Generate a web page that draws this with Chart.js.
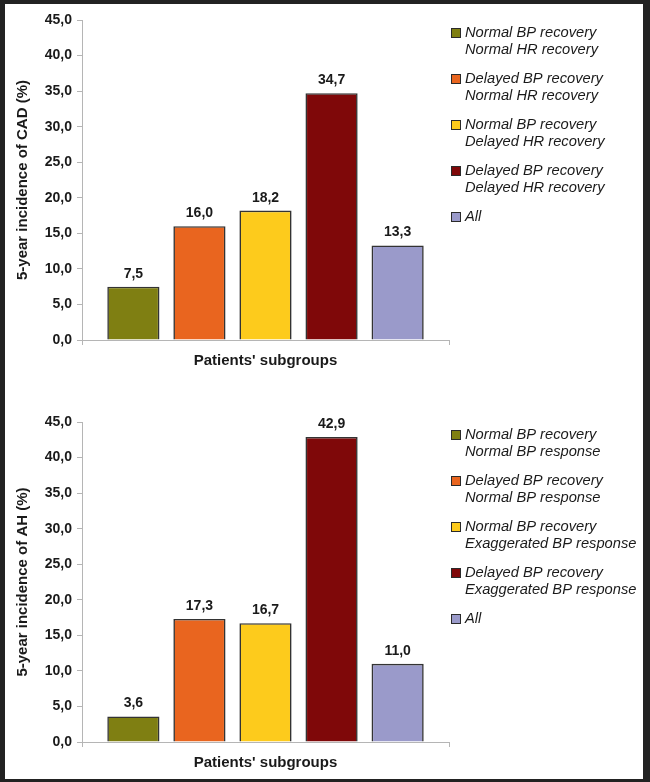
<!DOCTYPE html>
<html lang="en">
<head>
<meta charset="UTF-8">
<title>5-year incidence by patients' subgroups</title>
<script src="https://cdn.jsdelivr.net/npm/chart.js"></script>
<style>
  html, body { margin: 0; padding: 0; }
  body { width: 650px; height: 782px; background: #222; position: relative; overflow: hidden; }
  #panel { position: absolute; left: 5px; top: 4px; width: 638px; height: 775px; background: #fff; }
  canvas { position: absolute; left: 0; }
  #cadChart { top: 0; }
  #ahChart { top: 391px; }
</style>
</head>
<body>
<div id="panel"></div>
<canvas id="cadChart" width="650" height="391"></canvas>
<canvas id="ahChart" width="650" height="391"></canvas>

<script>
// valeurs
const xCategory = ["Patients' subgroups"];
const cadSubgroups = [
    ['Normal BP recovery', 'Normal HR recovery'],
    ['Delayed BP recovery', 'Normal HR recovery'],
    ['Normal BP recovery', 'Delayed HR recovery'],
    ['Delayed BP recovery', 'Delayed HR recovery'],
    ['All']
];
const cadValues = [7.5, 16.0, 18.2, 34.7, 13.3];

const ahSubgroups = [
    ['Normal BP recovery', 'Normal BP response'],
    ['Delayed BP recovery', 'Normal BP response'],
    ['Normal BP recovery', 'Exaggerated BP response'],
    ['Delayed BP recovery', 'Exaggerated BP response'],
    ['All']
];
const ahValues = [3.6, 17.3, 16.7, 42.9, 11.0];

const yTicks = [0, 5, 10, 15, 20, 25, 30, 35, 40, 45];
const barColors = ['#7f7f12', '#e9651f', '#fdcb1c', '#7f0809', '#9a9aca'];

const FONT = '"Liberation Sans", Arial, sans-serif';
const fmt = v => v.toFixed(1).replace('.', ',');

// étiquettes de valeur au-dessus des barres
const valueLabels = {
    id: 'valueLabels',
    afterDatasetsDraw(chart) {
        const ctx = chart.ctx;
        ctx.save();
        ctx.font = 'bold 14px ' + FONT;
        ctx.fillStyle = '#1a1a1a';
        ctx.textAlign = 'center';
        ctx.textBaseline = 'alphabetic';
        chart.data.datasets.forEach((ds, i) => {
            const bar = chart.getDatasetMeta(i).data[0];
            ctx.fillText(fmt(ds.data[0]), bar.x, bar.y - 9);
        });
        ctx.restore();
    }
};

// légende à droite, sur deux lignes
const sideLegend = {
    id: 'sideLegend',
    afterDraw(chart) {
        const ctx = chart.ctx;
        const area = chart.chartArea;
        const x0 = area.right + 2;
        let y = area.top + 13;
        ctx.save();
        ctx.font = 'italic 14.7px ' + FONT;
        ctx.textBaseline = 'middle';
        ctx.textAlign = 'left';
        chart.data.datasets.forEach(ds => {
            ctx.fillStyle = ds.backgroundColor;
            ctx.fillRect(x0, y - 5, 10, 10);
            ctx.strokeStyle = '#2a2a2a';
            ctx.lineWidth = 1;
            ctx.strokeRect(x0 + 0.5, y - 4.5, 9, 9);
            ctx.fillStyle = '#1a1a1a';
            ds.label.forEach((line, k) => ctx.fillText(line, x0 + 14, y + k * 16.5));
            y += 46;
        });
        ctx.restore();
    }
};

function makeChart(id, names, values, yTitle, padTop, xHeight) {
    return new Chart(document.getElementById(id), {
        type: 'bar',
        data: {
            labels: xCategory,
            datasets: names.map((n, i) => ({
                label: n,
                data: [values[i]],
                backgroundColor: barColors[i],
                borderColor: '#333',
                borderWidth: 1.6,
                categoryPercentage: 0.9,
                barPercentage: 0.79
            }))
        },
        options: {
            responsive: false,
            animation: false,
            layout: { padding: { top: padTop, right: 201, left: 0, bottom: 0 } },
            plugins: { legend: { display: false }, tooltip: { enabled: false } },
            scales: {
                x: {
                    grid: { drawOnChartArea: false, tickLength: 5, color: '#b5b5b5' },
                    border: { color: '#b5b5b5' },
                    ticks: { color: '#1a1a1a', font: { family: FONT, size: 15, weight: 'bold' }, padding: 7 },
                    afterFit: s => { s.height = xHeight; }
                },
                y: {
                    min: 0,
                    max: 45,
                    afterBuildTicks: s => { s.ticks = yTicks.map(v => ({ value: v })); },
                    grid: { drawOnChartArea: false, tickLength: 5, color: '#b5b5b5' },
                    border: { color: '#b5b5b5' },
                    ticks: {
                        color: '#1a1a1a',
                        font: { family: FONT, size: 14, weight: 'bold' },
                        padding: 5,
                        callback: v => fmt(v)
                    },
                    title: {
                        display: true,
                        text: yTitle,
                        color: '#1a1a1a',
                        font: { family: FONT, size: 15, weight: 'bold' },
                        padding: { top: 14 }
                    },
                    afterFit: s => { s.width = 82; }
                }
            }
        },
        plugins: [valueLabels, sideLegend]
    });
}

makeChart('cadChart', cadSubgroups, cadValues, '5-year incidence of CAD (%)', 20, 51);
makeChart('ahChart', ahSubgroups, ahValues, '5-year incidence of AH (%)', 31, 40);
</script>
</body>
</html>
